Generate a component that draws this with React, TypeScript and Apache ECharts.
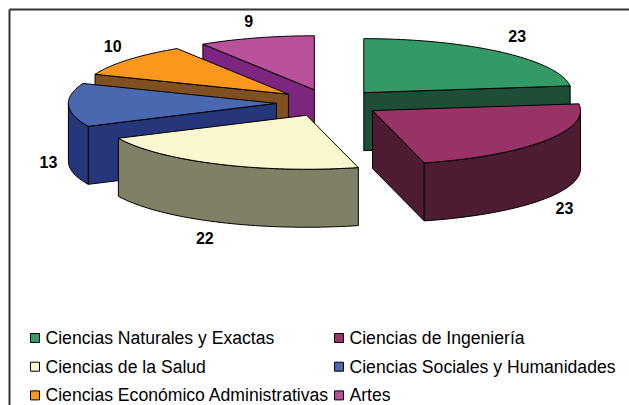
import React, { useEffect, useRef } from "react";
import * as echarts from "echarts";

const categories = [
  "Ciencias Naturales y Exactas",
  "Ciencias de Ingeniería",
  "Ciencias de la Salud",
  "Ciencias Sociales y Humanidades",
  "Ciencias Económico Administrativas",
  "Artes",
];
const values = [23, 23, 22, 13, 10, 9];
const topColors = ["#339966", "#993366", "#FBF8CF", "#4A68AF", "#FB971C", "#B8509B"];
const sideColors = ["#1C4F36", "#4D1C33", "#808066", "#26367A", "#805020", "#7C2680"];
const paintOrder = [0, 5, 4, 3, 2, 1];
const legendLeft = [0, 2, 4];
const legendRight = [1, 3, 5];

const CX = 329;
const CY = 102.9;
const RX = 208;
const RY = 54;
const EXPLODE = 0.253;
const DEPTH = 58;
const LABEL_GAP_X = 24;
const LABEL_GAP_Y = 18;
const LABEL_SHIFT_Y = -1.5;
const labelNudgeX = [0, 0, -3, 4, 3, -1];
const labelNudgeY = [-1, 1, 2, 0, 0, 2];
const FONT = '"Liberation Sans", Arial, sans-serif';

const total = values.reduce((a, b) => a + b, 0);
const starts = values.map((_, i) => values.slice(0, i).reduce((a, b) => a + b, 0));

function arcPoints(ox: number, oy: number, a0: number, a1: number) {
  const pts: number[][] = [];
  const n = Math.max(2, Math.ceil(Math.abs(a1 - a0) / 0.03));
  for (let k = 0; k <= n; k++) {
    const a = a0 + ((a1 - a0) * k) / n;
    pts.push([ox + RX * Math.sin(a), oy - RY * Math.cos(a)]);
  }
  return pts;
}

function makeRender(colorIndex: number) {
  return (_params: any, api: any) => {
    const value = api.value(0);
    const start = api.value(1);
    const a0 = (start / total) * Math.PI * 2;
    const a1 = ((start + value) / total) * Math.PI * 2;
    const mid = (a0 + a1) / 2;
    const ox = CX + RX * EXPLODE * Math.sin(mid);
    const oy = CY - RY * EXPLODE * Math.cos(mid);
    const stroke = { stroke: "#000", lineWidth: 1, lineJoin: "round" };
    const side = { ...stroke, fill: sideColors[colorIndex] };
    const children: any[] = [];

    const cutWall = (a: number) => {
      const rx = ox + RX * Math.sin(a);
      const ry = oy - RY * Math.cos(a);
      children.push({
        type: "polygon",
        shape: { points: [[ox, oy], [rx, ry], [rx, ry + DEPTH], [ox, oy + DEPTH]] },
        style: side,
      });
    };
    if (Math.sin(a0) < -1e-6) cutWall(a0);
    if (Math.sin(a1) > 1e-6) cutWall(a1);

    const f0 = Math.max(a0, Math.PI / 2);
    const f1 = Math.min(a1, (Math.PI * 3) / 2);
    if (f1 > f0) {
      const upper = arcPoints(ox, oy, f0, f1);
      const lower = arcPoints(ox, oy + DEPTH, f1, f0);
      children.push({ type: "polygon", shape: { points: [...upper, ...lower] }, style: side });
    }

    children.push({
      type: "polygon",
      shape: { points: [[ox, oy], ...arcPoints(ox, oy, a0, a1)] },
      style: { ...stroke, fill: topColors[colorIndex] },
    });

    const front = Math.cos(mid) < 0;
    children.push({
      type: "text",
      style: {
        text: String(value),
        x: ox + (RX + LABEL_GAP_X) * Math.sin(mid) + labelNudgeX[colorIndex],
        y:
          oy -
          (RY + LABEL_GAP_Y) * Math.cos(mid) +
          (front ? DEPTH : 0) +
          LABEL_SHIFT_Y +
          labelNudgeY[colorIndex],
        align: "center",
        verticalAlign: "middle",
        fill: "#000",
        font: `bold 16px ${FONT}`,
      },
    });
    return { type: "group", children };
  };
}

export default function App() {
  const ref = useRef<HTMLDivElement>(null);
  useEffect(() => {
    document.body.style.margin = "0";
    const chart = echarts.init(ref.current!, undefined, { renderer: "svg" });
    const legendBase = {
      orient: "vertical",
      icon: "rect",
      itemWidth: 9,
      itemHeight: 9,
      itemGap: 10.7,
      selectedMode: false,
      padding: 0,
      top: 329,
      textStyle: { fontFamily: FONT, fontSize: 17.6, color: "#000", padding: [0, 0, 0, 1] },
      itemStyle: { borderColor: "#000", borderWidth: 1 },
    };
    chart.setOption({
      animation: false,
      backgroundColor: "#fff",
      legend: [
        { ...legendBase, left: 30, data: legendLeft.map((i) => categories[i]) },
        { ...legendBase, left: 334, data: legendRight.map((i) => categories[i]) },
      ],
      graphic: [
        { type: "line", shape: { x1: 9.5, y1: 9.5, x2: 629, y2: 9.5 }, style: { stroke: "#333", lineWidth: 2 } },
        { type: "line", shape: { x1: 9.5, y1: 9.5, x2: 9.5, y2: 405 }, style: { stroke: "#333", lineWidth: 2 } },
      ],
      series: paintOrder.map((i) => ({
        type: "custom",
        name: categories[i],
        coordinateSystem: "none",
        itemStyle: { color: topColors[i] },
        renderItem: makeRender(i),
        data: [[values[i], starts[i]]],
      })),
    });
    return () => chart.dispose();
  }, []);
  return <div ref={ref} style={{ position: "fixed", left: 0, top: 0, width: 629, height: 405 }} />;
}
